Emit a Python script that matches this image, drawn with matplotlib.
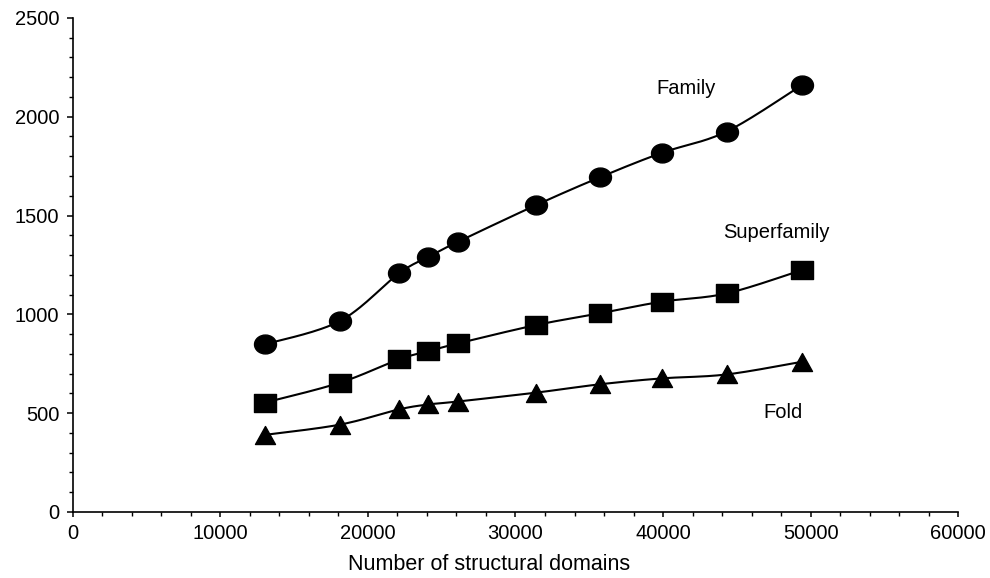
import numpy as np
import matplotlib
matplotlib.use('Agg')
import matplotlib.pyplot as plt
from matplotlib.path import Path
from matplotlib.ticker import MultipleLocator

plt.rcParams['font.family'] = ['Liberation Sans', 'DejaVu Sans']

# data
domains = [13000, 18100, 22100, 24100, 26100, 31400, 35700, 39900, 44300, 49400]
family = [848, 966, 1207, 1291, 1367, 1553, 1693, 1817, 1925, 2160]
superfamily = [553, 654, 772, 814, 853, 946, 1005, 1064, 1106, 1224]
fold = [390, 442, 519, 544, 559, 604, 646, 676, 696, 760]

series = [
    ('Family', family, 'ellipse'),
    ('Superfamily', superfamily, 'rect'),
    ('Fold', fold, 'tri'),
]
labels = {'Family': (41550, 2145), 'Superfamily': (47650, 1413), 'Fold': (48100, 502)}


def smooth(x, y, n=30):
    # excel-style smoothed line: bezier with control points from neighbours
    p = np.column_stack([x, y]).astype(float)
    out = [p[0]]
    t = np.linspace(0, 1, n)[1:, None]
    for i in range(len(p) - 1):
        p0 = p[max(i - 1, 0)]
        p1 = p[i]
        p2 = p[i + 1]
        p3 = p[min(i + 2, len(p) - 1)]
        c1 = p1 + (p2 - p0) / 6
        c2 = p2 - (p3 - p1) / 6
        seg = ((1 - t) ** 3 * p1 + 3 * (1 - t) ** 2 * t * c1
               + 3 * (1 - t) * t ** 2 * c2 + t ** 3 * p2)
        out.extend(seg)
    out = np.array(out)
    return out[:, 0], out[:, 1]


circ = Path.unit_circle()
markers = {
    'ellipse': (Path(circ.vertices * [1, 0.86], circ.codes), 15.8),
    'rect': (Path([(-1, -0.86), (1, -0.86), (1, 0.86), (-1, 0.86), (-1, -0.86)],
                  [1, 2, 2, 2, 79]), 15.8),
    'tri': (Path([(0, 0.9), (-1, -0.9), (1, -0.9), (0, 0.9)], [1, 2, 2, 79]), 14.4),
}

fig = plt.figure(figsize=(9.9, 5.78), dpi=100)
ax = fig.add_axes([0.0734, 0.1142, 0.8946, 0.8548])

for name, vals, mk in series:
    sx, sy = smooth(domains, vals)
    ax.plot(sx, sy, color='black', lw=1.5, zorder=2)
    m, ms = markers[mk]
    ax.plot(domains, vals, ls='none', marker=m, markersize=ms,
            color='black', zorder=3)
    tx, ty = labels[name]
    ax.text(tx, ty, name, fontsize=14.5, ha='center', va='center')

ax.set_xlim(0, 60000)
ax.set_ylim(0, 2500)
ax.xaxis.set_major_locator(MultipleLocator(10000))
ax.xaxis.set_minor_locator(MultipleLocator(2000))
ax.yaxis.set_major_locator(MultipleLocator(500))
ax.yaxis.set_minor_locator(MultipleLocator(100))

for s in ['top', 'right']:
    ax.spines[s].set_visible(False)
for s in ['left', 'bottom']:
    ax.spines[s].set_linewidth(1.2)

ax.tick_params(axis='y', which='major', length=4.5, width=1.1, pad=5, labelsize=14.5)
ax.tick_params(axis='y', which='minor', length=3, width=1.0)
ax.tick_params(axis='x', which='major', length=3.5, width=1.1, pad=5, labelsize=14.5)
ax.tick_params(axis='x', which='minor', length=3, width=1.0)

fig.text(489 / 990, 1 - 565 / 578, 'Number of structural domains',
         fontsize=15.5, ha='center', va='center')

fig.savefig('out.png', dpi=100)
